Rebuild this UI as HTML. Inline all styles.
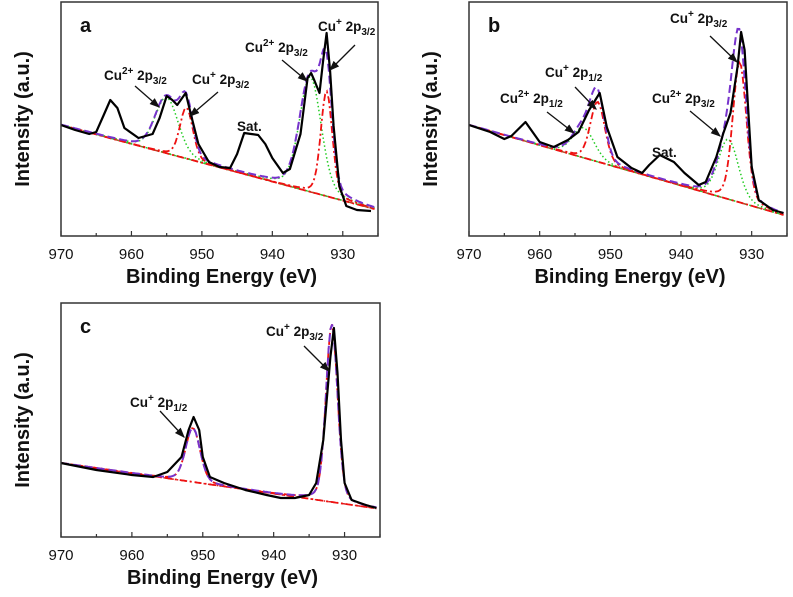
<!DOCTYPE html>
<html><head><meta charset="utf-8">
<style>
html,body{margin:0;padding:0;background:#fff;}
svg{display:block;font-family:"Liberation Sans",Arial,sans-serif;}
.tl{font-size:15px;fill:#111;text-anchor:middle;}
.at{font-size:20px;font-weight:bold;fill:#111;}
.an{font-size:13.5px;font-weight:bold;fill:#111;}
</style></head>
<body>
<svg id="fig" width="793" height="597" viewBox="0 0 793 597">
<defs><marker id="ah" markerWidth="8" markerHeight="8" refX="7" refY="4" orient="auto"><path d="M0,1 L8,4 L0,7 z" fill="#111"/></marker></defs>
</svg>
<script>
// Panel a data (eV, intensity a.u.)
const aEnergy=[970,968,966,965,964,963,962,961,959,957,956,955,954.2,953.5,952.3,951.5,950.5,949,947.5,946,945,944,943,942,941,940,938.5,937.5,936,935,934.5,934,933.3,932.8,932.3,931.8,931.3,930.5,929.5,928,926];
const aIntensity=[111,106,102,104,120,136,128,108,98,102,118,140,136,131,143,120,92,74,69,68,82,103,102,101,92,78,63,67,102,158,163,155,143,175,203,165,110,50,30,26,25];
const aBaseline=[111,26];
const aCu2Centers=[955,934.6], aCu2Amps=[56,115], aCu2Widths=[1.6,1.5];
const aCu1Centers=[952.2,932.3], aCu1Amps=[51,105], aCu1Widths=[0.9,0.8];
// Panel b data
const bEnergy=[970,967,965,964,962,960,958,956,954.5,953,951.5,950.5,949,947,945.5,944.5,943,941,939.5,937.5,936.5,935,934,933,932,931.5,931,930,929,927,925.5];
const bIntensity=[111,104,97,100,114,94,89,96,104,126,143,109,79,68,63,71,81,74,63,51,54,79,103,123,169,204,186,69,36,26,23];
const bBaseline=[111,20];
const bCu2Centers=[953.8,933.3], bCu2Amps=[30,60], bCu2Widths=[1.5,1.4];
const bCu1Centers=[951.8,931.7], bCu1Amps=[60,140], bCu1Widths=[1.0,0.95];
// Panel c data
const cEnergy=[970,965,960,957,955,953,952,951.3,950.5,950,949,947,944,941,939,937,935,934,933,932,931.5,931,930.5,930,929,927,925.5];
const cIntensity=[74,67,62,60,65,80,107,120,107,80,60,54,47,42,39,39,42,54,97,180,209,164,97,54,37,32,29];
const cBaseline=[74,28];
const cCu2Centers=[], cCu2Amps=[], cCu2Widths=[];
const cCu1Centers=[951.4,931.8], cCu1Amps=[54,178], cCu1Widths=[1.0,0.8];
const xTicks=[970,960,950,940,930];

const NS="http://www.w3.org/2000/svg";
const svg=document.getElementById('fig');
function mk(tag,attrs,parent){const e=document.createElementNS(NS,tag);for(const k in attrs)e.setAttribute(k,attrs[k]);(parent||svg).appendChild(e);return e;}

function panel(id,L,R,T,B,E,I,base,c2c,c2a,c2w,c1c,c1a,c1w,twoBase){
  const g=mk('g',{});
  
  
  const xs=e=>L+(970-e)/(970-925)*(R-L);
  const ys=v=>B-v/234*(B-T);
  const bl=e=>base[0]+(base[1]-base[0])*(970-e)/45;
  const peak=(e,c,a,w)=>{const d=(e-c)/w;return a*(0.8*Math.exp(-d*d/2)+0.2/(1+d*d/2));};
  const grid=[];for(let e=970;e>=925.5;e-=0.25)grid.push(e);
  const path=f=>grid.map((e,i)=>(i?'L':'M')+xs(e).toFixed(1)+','+ys(f(e)).toFixed(1)).join(' ');
  const b1=mk('path',{d:path(bl),stroke:'#d22',fill:'none','stroke-width':1.5,'stroke-dasharray':'6 3 1.5 3'},g);
  
  
  if(twoBase){const b2=mk('path',{d:path(bl),stroke:'#4b3',fill:'none','stroke-width':1.2,'stroke-dasharray':'6 3 1.5 3','stroke-dashoffset':4},g);
  
  }
  c2c.forEach((c,k)=>{const p=mk('path',{d:path(e=>bl(e)+peak(e,c,c2a[k],c2w[k])),stroke:'#2c2',fill:'none','stroke-width':1.5,'stroke-dasharray':'1.5 2.5'},g);
    
    });
  c1c.forEach((c,k)=>{const p=mk('path',{d:path(e=>bl(e)+peak(e,c,c1a[k],c1w[k])),stroke:'#e11',fill:'none','stroke-width':1.8,'stroke-dasharray':'7 3 2 3'},g);
    
    });
  const env=e=>{let s=bl(e);c2c.forEach((c,k)=>s+=peak(e,c,c2a[k],c2w[k]));c1c.forEach((c,k)=>s+=peak(e,c,c1a[k],c1w[k]));return s;};
  const en=mk('path',{d:path(env),stroke:'#73c',fill:'none','stroke-width':2,'stroke-dasharray':'8 4'},g);
  
  
  const dp=mk('path',{d:E.map((e,i)=>(i?'L':'M')+xs(e).toFixed(1)+','+ys(I[i]).toFixed(1)).join(' '),stroke:'#000',fill:'none','stroke-width':2.2,'stroke-linejoin':'round'},g);
  
  
  const fr=mk('rect',{x:L,y:T,width:R-L,height:B-T,fill:'none',stroke:'#333','stroke-width':1.5},g);
  
  
  for(let e=970;e>=925;e-=5){const t=mk('line',{x1:xs(e),x2:xs(e),y1:B,y2:B-(e%10===0?5:3),stroke:'#333','stroke-width':1.2},g);
    
    }
  xTicks.forEach(v=>{const t=mk('text',{x:xs(v),y:B+23,class:'tl'},g);t.textContent=v;
    
    });
  const xt=mk('text',{x:(L+R)/2+2,y:B+47,class:'at','text-anchor':'middle'},g);xt.textContent='Binding Energy (eV)';
  
  
  const yt=mk('text',{x:0,y:0,class:'at','text-anchor':'middle','font-size':'23',transform:`translate(${L-32},${(T+B)/2}) rotate(-90)`},g);yt.textContent='Intensity (a.u.)';
  
  
  const pl=mk('text',{x:L+19,y:T+30,class:'at','font-size':'17'},g);pl.textContent=id;
  
  
}
panel('a',61,378,2,236,aEnergy,aIntensity,aBaseline,aCu2Centers,aCu2Amps,aCu2Widths,aCu1Centers,aCu1Amps,aCu1Widths,true);
panel('b',469,787,2,236,bEnergy,bIntensity,bBaseline,bCu2Centers,bCu2Amps,bCu2Widths,bCu1Centers,bCu1Amps,bCu1Widths,true);
panel('c',61,380,303,537,cEnergy,cIntensity,cBaseline,cCu2Centers,cCu2Amps,cCu2Widths,cCu1Centers,cCu1Amps,cCu1Widths,false);

function note(x,y,ion,sub,ax1,ay1,ax2,ay2,name){
  const t=mk('text',{x:x,y:y,class:'an'});
  t.innerHTML=`Cu<tspan dy="-6" font-size="10">${ion}</tspan><tspan dy="6"> 2p</tspan><tspan dy="4" font-size="10">${sub}</tspan>`;
  
  
  const a=mk('line',{x1:ax1,y1:ay1,x2:ax2,y2:ay2,stroke:'#111','stroke-width':1.3,'marker-end':'url(#ah)'});
  
  
}
note(104,80,'2+','3/2',135,86,159,107,'label-a-cu2-2p-left');
note(192,84,'+','3/2',218,92,190,116,'label-a-cu1-2p-left');
note(245,52,'2+','3/2',282,60,307,81,'label-a-cu2-2p-right');
note(318,31,'+','3/2',355,45,330,70,'label-a-cu1-2p-right');
note(500,103,'2+','1/2',547,112,574,133,'label-b-cu2-2p12');
note(545,77,'+','1/2',575,87,596,109,'label-b-cu1-2p12');
note(652,103,'2+','3/2',690,111,720,136,'label-b-cu2-2p32');
note(670,23,'+','3/2',710,36,737,62,'label-b-cu1-2p32');
note(130,407,'+','1/2',160,411,184,437,'label-c-cu1-2p12');
note(266,336,'+','3/2',304,346,329,371,'label-c-cu1-2p32');
[[237,131,'sat-label-a'],[652,157,'sat-label-b']].forEach(s=>{const t=mk('text',{x:s[0],y:s[1],class:'an'});t.textContent='Sat.';
  
  });
</script>
</body></html>
